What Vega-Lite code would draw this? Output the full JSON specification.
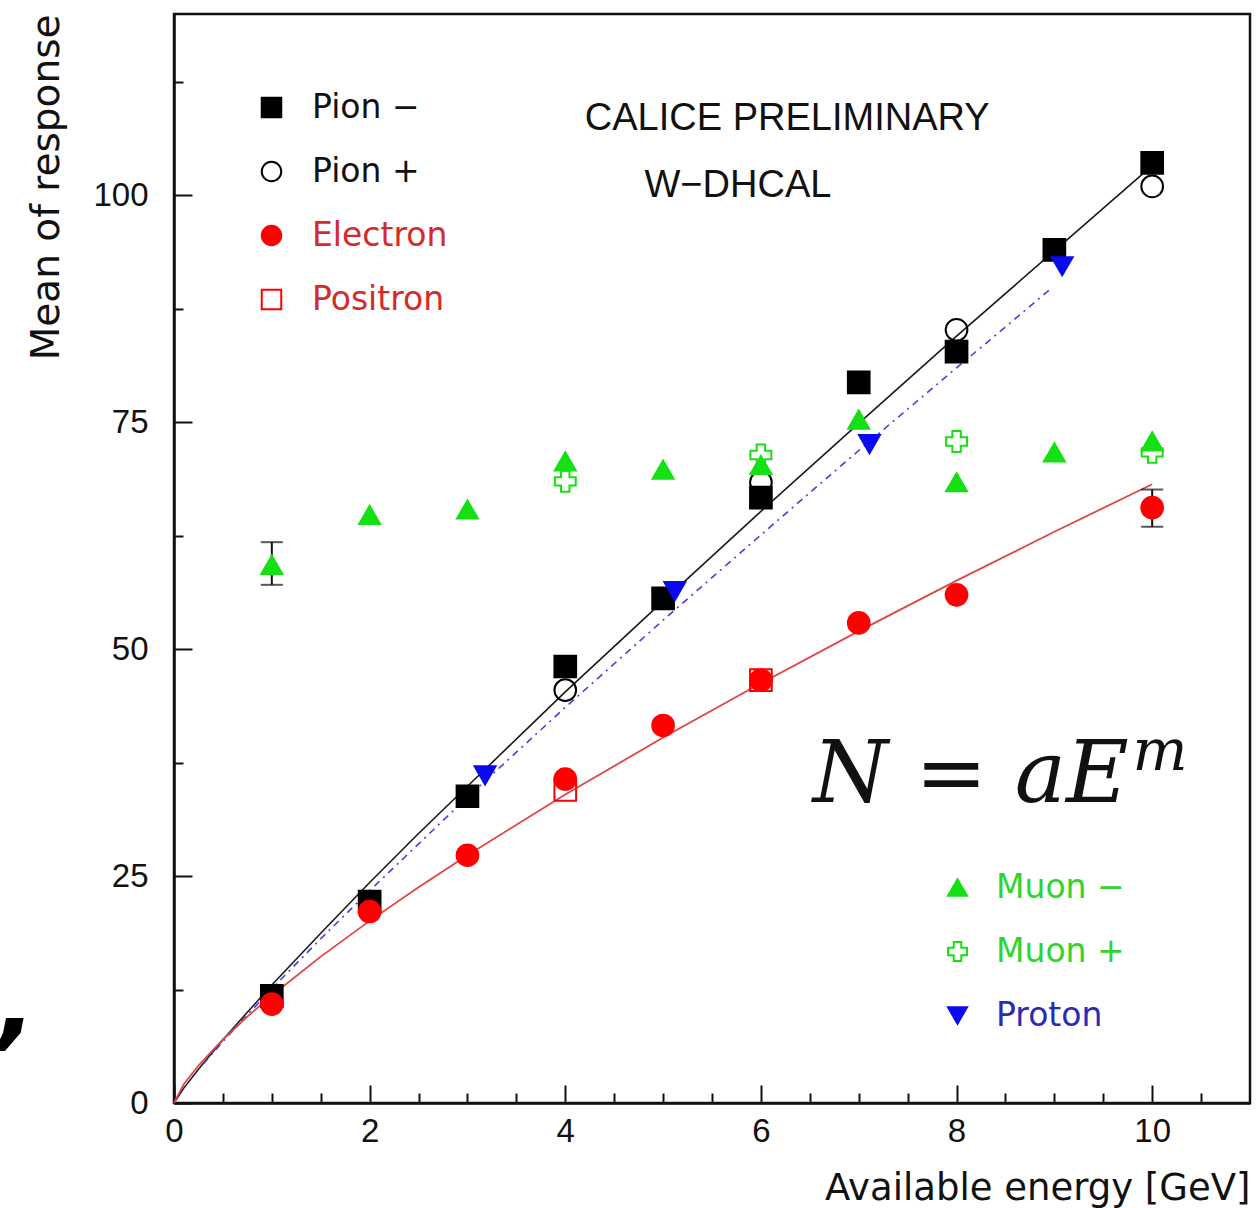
{
  "$schema": "https://vega.github.io/schema/vega-lite/v6.json",
  "width": 1076,
  "height": 1089,
  "autosize": {"type": "none"},
  "padding": {"left": 174, "top": 14, "right": 8, "bottom": 105},
  "background": "white",
  "config": {
    "view": {"stroke": "#111111", "strokeWidth": 2.5},
    "axis": {"grid": false, "domainColor": "#111111", "domainWidth": 2.5, "tickColor": "#111111", "tickWidth": 2, "labelColor": "#111111", "titleColor": "#111111"}
  },
  "datasets": {
    "pts": [
      {"series": "Pion −", "E": 1, "N": 11.8}, {"series": "Pion −", "E": 2, "N": 22.2}, {"series": "Pion −", "E": 3, "N": 33.8},
      {"series": "Pion −", "E": 4, "N": 48.1}, {"series": "Pion −", "E": 5, "N": 55.6}, {"series": "Pion −", "E": 6, "N": 66.7},
      {"series": "Pion −", "E": 7, "N": 79.4}, {"series": "Pion −", "E": 8, "N": 82.8}, {"series": "Pion −", "E": 9, "N": 94.0},
      {"series": "Pion −", "E": 10, "N": 103.6},
      {"series": "Pion +", "E": 4, "N": 45.5}, {"series": "Pion +", "E": 6, "N": 68.4}, {"series": "Pion +", "E": 8, "N": 85.2},
      {"series": "Pion +", "E": 10, "N": 101.0},
      {"series": "Electron", "E": 1, "N": 10.9}, {"series": "Electron", "E": 2, "N": 21.1}, {"series": "Electron", "E": 3, "N": 27.3},
      {"series": "Electron", "E": 4, "N": 35.7}, {"series": "Electron", "E": 5, "N": 41.6}, {"series": "Electron", "E": 6, "N": 46.6},
      {"series": "Electron", "E": 7, "N": 52.9}, {"series": "Electron", "E": 8, "N": 56.0}, {"series": "Electron", "E": 10, "N": 65.6},
      {"series": "Positron", "E": 4, "N": 34.5}, {"series": "Positron", "E": 6, "N": 46.6}
    ],
    "pts2": [
      {"series": "Muon −", "E": 1, "N": 59.3}, {"series": "Muon −", "E": 2, "N": 64.8}, {"series": "Muon −", "E": 3, "N": 65.4},
      {"series": "Muon −", "E": 4, "N": 70.7}, {"series": "Muon −", "E": 5, "N": 69.8}, {"series": "Muon −", "E": 6, "N": 70.3},
      {"series": "Muon −", "E": 7, "N": 75.3}, {"series": "Muon −", "E": 8, "N": 68.4}, {"series": "Muon −", "E": 9, "N": 71.7},
      {"series": "Muon −", "E": 10, "N": 72.9},
      {"series": "Muon +", "E": 4, "N": 68.5}, {"series": "Muon +", "E": 6, "N": 71.4}, {"series": "Muon +", "E": 8, "N": 72.9},
      {"series": "Muon +", "E": 10, "N": 71.7},
      {"series": "Proton", "E": 3.18, "N": 36.1}, {"series": "Proton", "E": 5.12, "N": 56.4}, {"series": "Proton", "E": 7.11, "N": 72.6},
      {"series": "Proton", "E": 9.08, "N": 92.2}
    ],
    "errs": [
      {"E": 1, "N": 57.1, "N2": 61.8},
      {"E": 10, "N": 63.5, "N2": 67.6}
    ],
    "fitPion": [
      {"E": 0, "N": 0}, {"E": 0.1, "N": 1.64}, {"E": 0.25, "N": 3.73}, {"E": 0.5, "N": 6.97}, {"E": 0.75, "N": 10.0},
      {"E": 1, "N": 13.0}, {"E": 1.5, "N": 18.7}, {"E": 2, "N": 24.3}, {"E": 2.5, "N": 29.7}, {"E": 3, "N": 34.9},
      {"E": 4, "N": 45.3}, {"E": 5, "N": 55.3}, {"E": 6, "N": 65.2}, {"E": 7, "N": 74.9}, {"E": 8, "N": 84.5},
      {"E": 9, "N": 93.9}, {"E": 10, "N": 103.3}
    ],
    "fitProton": [
      {"E": 0.3, "N": 4.29}, {"E": 0.5, "N": 6.78}, {"E": 1, "N": 12.6}, {"E": 1.5, "N": 18.1}, {"E": 2, "N": 23.4},
      {"E": 3, "N": 33.7}, {"E": 4, "N": 43.6}, {"E": 5, "N": 53.2}, {"E": 6, "N": 62.6}, {"E": 7, "N": 71.9},
      {"E": 8, "N": 81.0}, {"E": 8.95, "N": 89.6}
    ],
    "fitElectron": [
      {"E": 0, "N": 0}, {"E": 0.1, "N": 2.06}, {"E": 0.25, "N": 4.13}, {"E": 0.5, "N": 7.0}, {"E": 0.75, "N": 9.52},
      {"E": 1, "N": 11.85}, {"E": 1.5, "N": 16.13}, {"E": 2, "N": 20.07}, {"E": 2.5, "N": 23.77}, {"E": 3, "N": 27.31},
      {"E": 4, "N": 33.99}, {"E": 5, "N": 40.27}, {"E": 6, "N": 46.25}, {"E": 7, "N": 52.0}, {"E": 8, "N": 57.56},
      {"E": 9, "N": 62.95}, {"E": 10, "N": 68.18}
    ],
    "calice": [
      {"E": 4.2, "N": 108.4, "text": "CALICE PRELIMINARY"},
      {"E": 4.81, "N": 101.1, "text": "W−DHCAL"}
    ],
    "formula": [{"E": 6.53, "N": 33.2, "text": "N = aE"}],
    "formulaSup": [{"E": 9.8, "N": 36.7, "text": "m"}],
    "comma": [{"E": -1.8, "N": 7.3, "text": ","}]
  },
  "encoding": {
    "x": {
      "field": "E", "type": "quantitative",
      "scale": {"domain": [0, 11], "nice": false, "zero": false},
      "axis": {
        "values": [0, 0.5, 1, 1.5, 2, 2.5, 3, 3.5, 4, 4.5, 5, 5.5, 6, 6.5, 7, 7.5, 8, 8.5, 9, 9.5, 10, 10.5],
        "labelExpr": "datum.value % 2 === 0 ? format(datum.value, 'd') : ''",
        "tickSize": {"condition": {"test": "datum.value % 2 === 0", "value": -18}, "value": -10},
        "labelFont": "Liberation Sans", "labelFontSize": 33, "labelPadding": 30, "labelFlush": false, "labelOverlap": false,
        "title": "Available energy [GeV]", "titleAnchor": "end", "titleFont": "DejaVu Sans", "titleFontSize": 37,
        "titleFontWeight": "normal", "titlePadding": 14
      }
    },
    "y": {
      "field": "N", "type": "quantitative",
      "scale": {"domain": [0, 120], "nice": false},
      "axis": {
        "values": [0, 12.5, 25, 37.5, 50, 62.5, 75, 87.5, 100, 112.5],
        "labelExpr": "datum.value % 25 === 0 ? format(datum.value, 'd') : ''",
        "tickSize": {"condition": {"test": "datum.value % 25 === 0", "value": -18}, "value": -9},
        "labelFont": "Liberation Sans", "labelFontSize": 33, "labelPadding": 44, "labelFlush": false, "labelOverlap": false,
        "title": "Mean of response", "titleAnchor": "end", "titleFont": "DejaVu Sans", "titleFontSize": 39,
        "titleFontWeight": "normal", "titlePadding": 26
      }
    }
  },
  "layer": [
    {
      "data": {"name": "fitPion"},
      "mark": {"type": "line", "color": "#1a1a1a", "strokeWidth": 1.6},
      "encoding": {}
    },
    {
      "data": {"name": "fitProton"},
      "mark": {"type": "line", "color": "#4040e0", "strokeWidth": 1.6, "strokeDash": [7, 5, 2, 5]},
      "encoding": {}
    },
    {
      "data": {"name": "fitElectron"},
      "mark": {"type": "line", "color": "#e04545", "strokeWidth": 1.8},
      "encoding": {}
    },
    {
      "data": {"name": "errs"},
      "mark": {"type": "rule", "color": "#111111", "strokeWidth": 2},
      "encoding": {"y2": {"field": "N2"}}
    },
    {
      "data": {"name": "errs"},
      "mark": {"type": "tick", "orient": "horizontal", "color": "#111111", "thickness": 2, "size": 22},
      "encoding": {}
    },
    {
      "data": {"name": "errs"},
      "mark": {"type": "tick", "orient": "horizontal", "color": "#111111", "thickness": 2, "size": 22},
      "encoding": {"y": {"field": "N2", "type": "quantitative"}}
    },
    {
      "data": {"name": "pts"},
      "mark": {"type": "point", "filled": true, "strokeWidth": 2, "size": 470, "opacity": 1},
      "encoding": {
        "shape": {
          "field": "series", "type": "nominal",
          "scale": {"domain": ["Pion −", "Pion +", "Electron", "Positron"], "range": ["square", "circle", "circle", "square"]},
          "legend": {
            "orient": "none", "legendX": 81, "legendY": 77, "title": null,
            "labelFont": "DejaVu Sans", "labelFontSize": 33, "labelOffset": 24, "rowPadding": 30,
            "symbolSize": 380, "symbolStrokeWidth": 2, "padding": 0,
            "labelColor": {"expr": "datum.value === 'Electron' || datum.value === 'Positron' ? '#d42a2a' : '#111111'"}
          }
        },
        "fill": {
          "field": "series", "type": "nominal",
          "scale": {"domain": ["Pion −", "Pion +", "Electron", "Positron"], "range": ["#000000", "transparent", "#ff0000", "transparent"]}
        },
        "stroke": {
          "field": "series", "type": "nominal",
          "scale": {"domain": ["Pion −", "Pion +", "Electron", "Positron"], "range": ["#000000", "#000000", "#ff0000", "#ff0000"]}
        }
      }
    },
    {
      "data": {"name": "pts2"},
      "mark": {"type": "point", "filled": true, "strokeWidth": 2, "size": 440, "opacity": 1},
      "encoding": {
        "shape": {
          "field": "series", "type": "nominal",
          "scale": {"domain": ["Muon −", "Muon +", "Proton"], "range": ["triangle-up", "cross", "triangle-down"]},
          "legend": {
            "orient": "none", "legendX": 767, "legendY": 857, "title": null,
            "labelFont": "DejaVu Sans", "labelFontSize": 33, "labelOffset": 22, "rowPadding": 30,
            "symbolSize": 360, "symbolStrokeWidth": 2, "padding": 0,
            "labelColor": {"expr": "datum.value === 'Proton' ? '#2a2ab8' : '#2ed52e'"}
          }
        },
        "fill": {
          "field": "series", "type": "nominal",
          "scale": {"domain": ["Muon −", "Muon +", "Proton"], "range": ["#14e014", "transparent", "#0a0af0"]}
        },
        "stroke": {
          "field": "series", "type": "nominal",
          "scale": {"domain": ["Muon −", "Muon +", "Proton"], "range": ["#14e014", "#14e014", "#0a0af0"]}
        }
      }
    },
    {
      "data": {"name": "calice"},
      "mark": {"type": "text", "align": "left", "baseline": "middle", "font": "Liberation Sans", "fontSize": 38, "color": "#111111"},
      "encoding": {"text": {"field": "text"}}
    },
    {
      "data": {"name": "formula"},
      "mark": {"type": "text", "align": "left", "baseline": "alphabetic", "font": "DejaVu Serif", "fontStyle": "italic", "fontSize": 86, "color": "#111111"},
      "encoding": {"text": {"field": "text"}}
    },
    {
      "data": {"name": "formulaSup"},
      "mark": {"type": "text", "align": "left", "baseline": "alphabetic", "font": "DejaVu Serif", "fontStyle": "italic", "fontSize": 58, "color": "#111111"},
      "encoding": {"text": {"field": "text"}}
    },
    {
      "data": {"name": "comma"},
      "mark": {"type": "text", "align": "left", "baseline": "alphabetic", "font": "DejaVu Sans", "fontWeight": "bold", "fontStyle": "italic", "fontSize": 100, "color": "#000000"},
      "encoding": {"text": {"field": "text"}}
    }
  ],
  "resolve": {"scale": {"shape": "independent", "fill": "independent", "stroke": "independent"}}
}
